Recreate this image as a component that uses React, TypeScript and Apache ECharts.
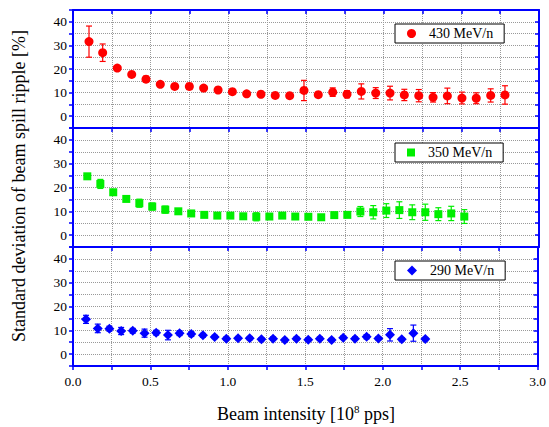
import React, { useEffect, useRef } from "react";
import * as echarts from "echarts";

// ---- data ----
const x430 = [0.103, 0.191, 0.285, 0.378, 0.47, 0.562, 0.655, 0.749, 0.841, 0.934, 1.026, 1.118, 1.21, 1.302, 1.395, 1.487, 1.579, 1.672, 1.764, 1.856, 1.949, 2.041, 2.133, 2.226, 2.318, 2.41, 2.504, 2.596, 2.689, 2.781];
const y430 = [31.6, 26.9, 20.4, 17.7, 15.7, 13.5, 12.6, 12.6, 11.9, 11.1, 10.4, 9.5, 9.3, 8.8, 8.7, 10.9, 9.1, 10.2, 9.3, 10.5, 9.8, 9.8, 9.0, 8.7, 8.0, 8.6, 7.7, 7.6, 8.8, 9.0];
const e430 = [6.6, 3.7, 0.8, 0.5, 1.2, 0.6, 0.5, 1.3, 0.6, 0.5, 0.5, 0.4, 0.4, 0.5, 0.5, 4.3, 0.5, 1.8, 1.5, 3.2, 2.3, 2.9, 2.4, 2.6, 2.0, 3.3, 2.5, 2.3, 2.8, 3.9];

const x350 = [0.092, 0.176, 0.259, 0.343, 0.427, 0.51, 0.594, 0.678, 0.761, 0.845, 0.929, 1.013, 1.096, 1.18, 1.264, 1.347, 1.431, 1.515, 1.598, 1.682, 1.766, 1.85, 1.933, 2.017, 2.101, 2.184, 2.268, 2.352, 2.435, 2.519];
const y350 = [24.7, 21.5, 18.0, 15.2, 13.4, 12.0, 10.7, 10.0, 9.1, 8.5, 8.2, 8.2, 7.9, 7.7, 7.8, 8.2, 7.8, 7.7, 7.5, 8.4, 8.5, 9.9, 9.6, 10.3, 10.5, 9.6, 9.6, 8.8, 9.1, 7.8];
const e350 = [0.5, 1.9, 0.5, 0.5, 1.7, 1.5, 1.5, 0.5, 0.5, 0.5, 0.5, 0.5, 0.5, 1.7, 0.5, 0.5, 0.5, 0.5, 0.5, 0.5, 0.5, 2.1, 2.8, 2.9, 3.5, 3.1, 3.4, 2.7, 3.0, 2.9];

const x290 = [0.084, 0.16, 0.235, 0.311, 0.386, 0.462, 0.537, 0.613, 0.688, 0.764, 0.839, 0.915, 0.99, 1.066, 1.141, 1.217, 1.292, 1.368, 1.443, 1.519, 1.594, 1.67, 1.745, 1.821, 1.896, 1.972, 2.047, 2.123, 2.198, 2.275];
const y290 = [14.6, 10.8, 10.7, 9.7, 9.8, 8.8, 9.0, 8.0, 8.8, 8.4, 7.9, 7.2, 6.5, 6.7, 6.7, 6.2, 6.5, 5.9, 6.5, 6.0, 6.5, 5.9, 6.9, 6.5, 7.3, 6.6, 8.1, 6.2, 8.8, 6.3];
const e290 = [1.7, 1.8, 1.0, 1.5, 1.0, 1.7, 1.0, 2.0, 1.0, 1.0, 0.8, 0.7, 0.7, 0.7, 0.7, 0.7, 0.7, 0.7, 0.7, 0.7, 0.7, 0.7, 0.7, 0.7, 0.9, 0.7, 2.6, 0.7, 3.4, 0.7];

const seriesNames = ["430 MeV/n", "350 MeV/n", "290 MeV/n"];
const seriesColors = ["#ff0000", "#00ee00", "#0000ff"];
const seriesSymbols = ["circle", "rect", "diamond"];
const symbolSizes = [9, 8, 10];
const yTickLabels = ["0", "10", "20", "30", "40"];
const xTickLabels = ["0.0", "0.5", "1.0", "1.5", "2.0", "2.5", "3.0"];

const FONT = "Liberation Serif";

export default function App() {
  const ref = useRef<HTMLDivElement>(null);
  useEffect(() => {
    document.body.style.margin = "0";
    const chart = echarts.init(ref.current!, undefined, { renderer: "svg" });
    const xsAll = [x430, x350, x290];
    const ysAll = [y430, y350, y290];
    const esAll = [e430, e350, e290];
    const tops = [10, 128, 247];
    const heights = [118, 119, 119];
    const legendTops = [24, 143, 261];

    const grid = tops.map((t, i) => ({ left: 73, width: 466, top: t, height: heights[i] }));
    const blue = "#0000ff";
    const xAxis: any[] = [];
    const yAxis: any[] = [];
    for (let i = 0; i < 3; i++) {
      xAxis.push({
        type: "value", gridIndex: i, position: "bottom", min: 0, max: 3, interval: 0.25,
        axisLine: { onZero: false, lineStyle: { color: blue, width: 2 } },
        axisTick: { show: i === 2, inside: false, length: 4, lineStyle: { color: blue, width: 1.5 } },
        axisLabel: {
          show: i === 2, margin: 8, color: "#000", fontFamily: FONT, fontSize: 13.5,
          formatter: (v: number) => {
            const s = v.toFixed(1);
            return xTickLabels.includes(s) && Math.abs(v * 2 - Math.round(v * 2)) < 1e-6 ? s : "";
          },
        },
        splitLine: { show: true, lineStyle: { color: "#999", type: "dotted", width: 1 } },
      });
      yAxis.push({
        type: "value", gridIndex: i, position: "left", min: -5, max: 45, interval: 5,
        axisLine: { onZero: false, lineStyle: { color: blue, width: 2 } },
        axisTick: { show: true, inside: false, length: 4, lineStyle: { color: blue, width: 1.5 } },
        axisLabel: {
          margin: 6, color: "#000", fontFamily: FONT, fontSize: 13.5,
          formatter: (v: number) => (yTickLabels.includes(String(v)) ? String(v) : ""),
        },
        splitLine: { show: true, lineStyle: { color: "#999", type: "dotted", width: 1 } },
      });
    }
    for (let i = 0; i < 3; i++) {
      xAxis.push({
        type: "value", gridIndex: i, position: "top", min: 0, max: 3, interval: 0.25,
        axisLine: { onZero: false, lineStyle: { color: blue, width: 2 } },
        axisTick: { show: true, inside: true, length: 4, lineStyle: { color: blue, width: 1.5 } },
        axisLabel: { show: false },
        splitLine: { show: false },
      });
      yAxis.push({
        type: "value", gridIndex: i, position: "right", min: -5, max: 45, interval: 5,
        axisLine: { onZero: false, lineStyle: { color: blue, width: 2 } },
        axisTick: { show: true, inside: true, length: 4, lineStyle: { color: blue, width: 1.5 } },
        axisLabel: { show: false },
        splitLine: { show: false },
      });
    }

    const series: any[] = [];
    for (let i = 0; i < 3; i++) {
      const color = seriesColors[i];
      const errData = xsAll[i].map((x, k) => [x, ysAll[i][k] - esAll[i][k], ysAll[i][k] + esAll[i][k]]);
      series.push({
        type: "custom", name: seriesNames[i] + " err", xAxisIndex: i, yAxisIndex: i,
        data: errData, encode: { x: 0, y: [1, 2] }, z: 2, silent: true,
        renderItem: (params: any, api: any) => {
          const x = api.value(0);
          const lo = api.coord([x, api.value(1)]);
          const hi = api.coord([x, api.value(2)]);
          const w = 3;
          const st = { stroke: color, lineWidth: 1.2 };
          return {
            type: "group",
            children: [
              { type: "line", shape: { x1: hi[0], y1: hi[1], x2: lo[0], y2: lo[1] }, style: st },
              { type: "line", shape: { x1: hi[0] - w, y1: hi[1], x2: hi[0] + w, y2: hi[1] }, style: st },
              { type: "line", shape: { x1: lo[0] - w, y1: lo[1], x2: lo[0] + w, y2: lo[1] }, style: st },
            ],
          };
        },
      });
      series.push({
        type: "scatter", name: seriesNames[i], xAxisIndex: i, yAxisIndex: i, z: 3,
        symbol: seriesSymbols[i], symbolSize: symbolSizes[i],
        itemStyle: { color, opacity: 1 },
        data: xsAll[i].map((x, k) => [x, ysAll[i][k]]),
      });
    }

    const legend = seriesNames.map((n, i) => ({
      data: [{ name: n, icon: seriesSymbols[i] }],
      left: 395, top: legendTops[i], orient: "horizontal",
      backgroundColor: "#fff", borderColor: "#000", borderWidth: 1,
      padding: [2, 11, 2, 12], itemWidth: symbolSizes[i], itemHeight: symbolSizes[i],
      selectedMode: false,
      textStyle: { fontFamily: FONT, fontSize: 14, color: "#000", lineHeight: 15, padding: [0, 0, 0, 8] },
    }));

    chart.setOption({
      animation: false,
      backgroundColor: "#fff",
      textStyle: { fontFamily: FONT },
      grid, xAxis, yAxis, series, legend,
      graphic: [
        {
          type: "text", x: 19, y: 186, rotation: Math.PI / 2,
          style: {
            text: "Standard deviation of beam spill ripple [%]",
            fontFamily: FONT, fontSize: 18, fill: "#000",
            align: "center", verticalAlign: "middle",
          },
        },
        {
          type: "text", x: 306, y: 414,
          style: {
            text: "{a|Beam intensity [10}{s|8}{a| pps]}",
            align: "center", verticalAlign: "middle",
            fontFamily: FONT,
            rich: {
              a: { fontFamily: FONT, fontSize: 18, fill: "#000", color: "#000" },
              s: { fontFamily: FONT, fontSize: 11, fill: "#000", color: "#000", padding: [0, 0, 10, 0] },
            },
          },
        },
      ],
    });
    return () => chart.dispose();
  }, []);
  return <div ref={ref} style={{ width: 549, height: 427 }} />;
}
